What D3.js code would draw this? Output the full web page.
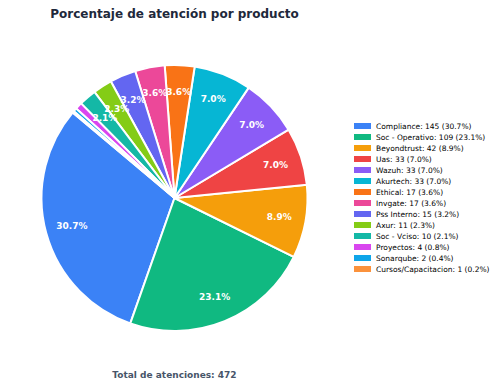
<!DOCTYPE html>
<html><head><meta charset="utf-8">
<script src="https://cdn.jsdelivr.net/npm/d3@7"></script>
<style>body{margin:0;background:#fff}svg{display:block}</style>
</head><body>
<svg id="c" width="500" height="388"></svg>
<script>
const categories = ["Compliance","Soc - Operativo","Beyondtrust","Uas","Wazuh","Akurtech","Ethical","Invgate","Pss Interno","Axur","Soc - Vciso","Proyectos","Sonarqube","Cursos/Capacitacion"];
const values = [145,109,42,33,33,33,17,17,15,11,10,4,2,1];
const colors = ["#3b82f6","#10b981","#f59e0b","#ef4444","#8b5cf6","#06b6d4","#f97316","#ec4899","#6366f1","#84cc16","#14b8a6","#d946ef","#0ea5e9","#fb923c"];
const title = "Porcentaje de atención por producto";
const total = d3.sum(values);

const svg = d3.select("#c");
const cx = 174.5, cy = 198, R = 133;
const startDeg = 140;

const toD3 = deg => (90 - deg) * Math.PI / 180;
const pie = d3.pie().sort(null).value(d => d)
  .startAngle(toD3(startDeg)).endAngle(toD3(startDeg) - 2 * Math.PI);
const arcs = pie(values);
const arc = d3.arc().innerRadius(0).outerRadius(R);

const g = svg.append("g").attr("transform", `translate(${cx},${cy})`);
g.selectAll("path").data(arcs).enter().append("path")
  .attr("d", arc)
  .attr("fill", (d, i) => colors[i])
  .attr("stroke", "#fff").attr("stroke-width", 2).attr("stroke-linejoin", "round");

const lab = d3.arc().innerRadius(R * 0.8).outerRadius(R * 0.8);
g.selectAll("text.pct").data(arcs.filter(d => d.value / total * 100 > 1)).enter().append("text")
  .attr("class", "pct")
  .attr("transform", d => `translate(${lab.centroid(d)})`)
  .attr("text-anchor", "middle").attr("dominant-baseline", "central")
  .attr("font-family", "DejaVu Sans").attr("font-weight", "bold").attr("font-size", 9)
  .attr("fill", "#fff")
  .text(d => (d.value / total * 100).toFixed(1) + "%");

svg.append("text").attr("x", cx).attr("y", 18).attr("text-anchor", "middle")
  .attr("font-family", "DejaVu Sans").attr("font-weight", "bold").attr("font-size", 12)
  .attr("fill", "#1e293b").text(title);

svg.append("text").attr("x", cx).attr("y", 378).attr("text-anchor", "middle")
  .attr("font-family", "DejaVu Sans").attr("font-weight", "bold").attr("font-size", 9)
  .attr("fill", "#475569").text("Total de atenciones: " + total);

const lg = svg.append("g").attr("transform", "translate(354,126)");
categories.forEach((c, i) => {
  const y = i * 11;
  lg.append("rect").attr("x", 0).attr("y", y - 3).attr("width", 17).attr("height", 6).attr("fill", colors[i]);
  lg.append("text").attr("x", 22).attr("y", y).attr("dominant-baseline", "central")
    .attr("font-family", "DejaVu Sans").attr("font-size", 7.5).attr("fill", "#000")
    .text(`${c}: ${values[i]} (${(values[i] / total * 100).toFixed(1)}%)`);
});
</script>
</body></html>
